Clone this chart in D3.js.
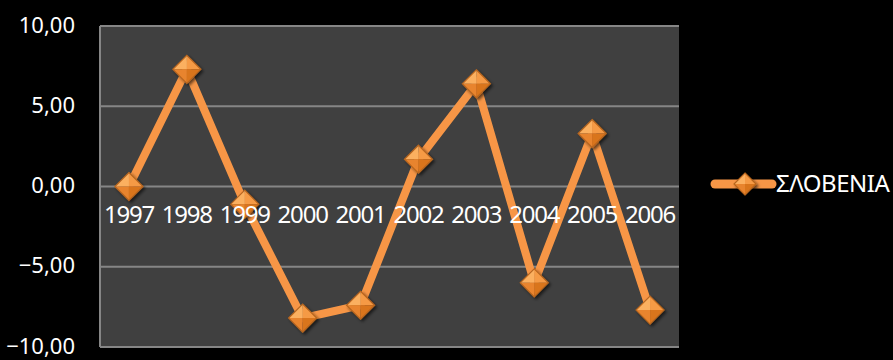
<!DOCTYPE html>
<html>
<head>
<meta charset="utf-8">
<script src="https://cdn.jsdelivr.net/npm/d3@7"></script>
<style>
  body { margin: 0; background: #000; }
  text { font-family: "Noto Sans", "Open Sans", sans-serif; fill: #fff; }
</style>
</head>
<body>
<div id="chart"></div>
<script>
var years = ["1997", "1998", "1999", "2000", "2001", "2002", "2003", "2004", "2005", "2006"];
var slovenia = [0.0, 7.3, -1.1, -8.2, -7.4, 1.7, 6.4, -6.0, 3.3, -7.7];
var yTicks = [-10, -5, 0, 5, 10];
var seriesName = "ΣΛΟΒΕΝΙΑ";

var W = 893, H = 360;
var margin = {top: 26, right: 214, bottom: 13, left: 100};
var width = W - margin.left - margin.right;
var height = H - margin.top - margin.bottom;

var orange = "#f79646";

var svg = d3.select("#chart")
  .append("svg")
    .attr("width", W)
    .attr("height", H)
    .style("background", "#000");

var defs = svg.append("defs");
var f = defs.append("filter").attr("id", "shadow")
  .attr("x", "-50%").attr("y", "-50%").attr("width", "200%").attr("height", "200%");
f.append("feDropShadow").attr("dx", 2).attr("dy", 2).attr("stdDeviation", 1.5)
  .attr("flood-color", "#000").attr("flood-opacity", 0.6);

var g = svg.append("g")
  .attr("transform", "translate(" + margin.left + "," + margin.top + ")");

var x = d3.scaleBand()
  .domain(years)
  .range([0, width]);

var y = d3.scaleLinear()
  .domain([-10, 10])
  .range([height, 0]);

// plot area
g.append("rect")
  .attr("x", 0).attr("y", 0)
  .attr("width", width).attr("height", height)
  .attr("fill", "#404040");

// gridlines
g.selectAll(".grid")
  .data(yTicks)
  .enter().append("line")
    .attr("x1", 0).attr("x2", width)
    .attr("y1", function(d) { return y(d); })
    .attr("y2", function(d) { return y(d); })
    .attr("stroke", "#868686")
    .attr("stroke-width", 2);

g.append("line")
  .attr("x1", 0).attr("x2", 0)
  .attr("y1", 0).attr("y2", height)
  .attr("stroke", "#868686")
  .attr("stroke-width", 2);

// y axis
var yAxis = g.append("g")
  .call(d3.axisLeft(y)
    .tickValues(yTicks)
    .tickSize(0)
    .tickPadding(25)
    .tickFormat(function(d) { return d3.format(".2f")(d).replace(".", ","); }));
yAxis.select(".domain").remove();
yAxis.selectAll("text")
  .attr("font-size", 22)
  .attr("dy", "0.28em")
  .attr("fill", "#fff")
  .style("font-family", "'Noto Sans', sans-serif");

// line
var data = years.map(function(yr, i) { return {year: yr, value: slovenia[i]}; });

g.append("path")
  .datum(data)
  .attr("fill", "none")
  .attr("stroke", orange)
  .attr("stroke-width", 8)
  .attr("stroke-linejoin", "miter")
  .attr("d", d3.line()
    .x(function(d) { return x(d.year) + x.bandwidth() / 2; })
    .y(function(d) { return y(d.value); }));

// diamond marker with bevelled facets
function marker(sel, r) {
  var m = sel.append("g").attr("filter", "url(#shadow)");
  var facets = [
    {p: [[0, -r], [r, 0], [0, 0]], c: "#f59a45"},
    {p: [[0, -r], [-r, 0], [0, 0]], c: "#fbb060"},
    {p: [[-r, 0], [0, r], [0, 0]], c: "#e8842e"},
    {p: [[r, 0], [0, r], [0, 0]], c: "#d9741f"}
  ];
  facets.forEach(function(fc) {
    m.append("path")
      .attr("d", "M" + fc.p.map(function(p) { return p.join(","); }).join("L") + "Z")
      .attr("fill", fc.c);
  });
  m.append("path")
    .attr("d", "M0," + (-r) + "L" + r + ",0L0," + r + "L" + (-r) + ",0Z")
    .attr("fill", "none")
    .attr("stroke", "#b8661f")
    .attr("stroke-width", 1.2);
  return m;
}

g.selectAll(".pt")
  .data(data)
  .enter().append("g")
    .attr("transform", function(d) {
      return "translate(" + (x(d.year) + x.bandwidth() / 2) + "," + y(d.value) + ")";
    })
    .each(function() { marker(d3.select(this), 14); });

// x axis at zero, labels drawn over the series
var xAxis = g.append("g")
  .attr("transform", "translate(0," + y(0) + ")")
  .call(d3.axisBottom(x).tickSize(0).tickPadding(19));
xAxis.select(".domain").remove();
xAxis.selectAll("text")
  .attr("font-size", 24)
  .attr("fill", "#fff")
  .style("font-family", "'Noto Sans', sans-serif")
  .attr("letter-spacing", -1.2);

// legend
var lg = svg.append("g").attr("transform", "translate(715,184)");
lg.append("line")
  .attr("x1", 0).attr("x2", 57)
  .attr("y1", 0).attr("y2", 0)
  .attr("stroke", orange)
  .attr("stroke-width", 9)
  .attr("stroke-linecap", "round");
marker(lg.append("g").attr("transform", "translate(30,0)"), 11);
lg.append("text")
  .attr("x", 61)
  .attr("y", 0)
  .attr("dy", "0.35em")
  .attr("font-size", 24)
  .attr("letter-spacing", -0.5)
  .text(seriesName);
</script>
</body>
</html>
